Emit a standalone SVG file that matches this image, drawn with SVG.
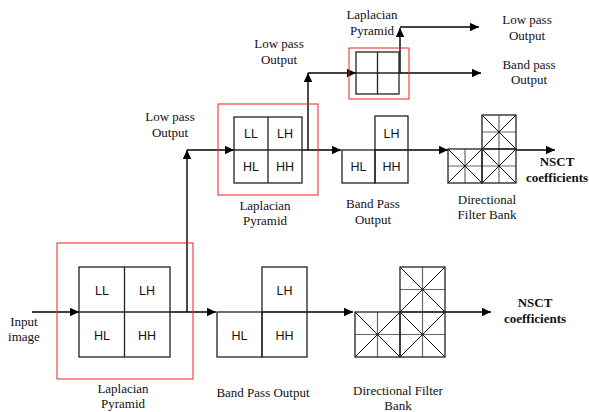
<svg xmlns="http://www.w3.org/2000/svg" width="589" height="412" viewBox="0 0 589 412">
<style>
.t{font-family:"Liberation Serif","Times New Roman",serif;font-size:13px;fill:#111;text-anchor:middle}
.b{font-family:"Liberation Serif","Times New Roman",serif;font-size:13px;font-weight:bold;fill:#111;text-anchor:middle}
.c{font-family:"Liberation Sans",Arial,sans-serif;font-size:12.5px;fill:#111;text-anchor:middle}
.box{fill:none;stroke:#222;stroke-width:1.3}
.red{fill:none;stroke:#e22;stroke-width:1}
.ar{fill:none;stroke:#000;stroke-width:1.4;marker-end:url(#ah)}
.mid{stroke:#666;stroke-width:1.2}
.dg{stroke:#111;stroke-width:1}
</style>
<defs>
<marker id="ah" markerUnits="userSpaceOnUse" markerWidth="10" markerHeight="10" refX="9" refY="4.25" orient="auto">
<path d="M0,0 L9,4.25 L0,8.5 z" fill="#000"/>
</marker>
</defs>

<g id="connectors">
<line class="ar" x1="32" y1="312" x2="79" y2="312"/>
<line class="ar" x1="170" y1="312" x2="216" y2="312"/>
<line class="ar" x1="187" y1="312" x2="187" y2="150"/>
<line class="ar" x1="307" y1="312" x2="353" y2="312"/>
<line class="ar" x1="445" y1="312" x2="491" y2="312"/>
<line class="ar" x1="187" y1="150" x2="234" y2="150"/>
<line class="ar" x1="302" y1="150" x2="341" y2="150"/>
<line class="ar" x1="308" y1="150" x2="308" y2="73"/>
<line class="ar" x1="408" y1="150" x2="448" y2="150"/>
<line class="ar" x1="516" y1="150" x2="555" y2="150"/>
<line class="ar" x1="308" y1="73" x2="356" y2="73"/>
<line class="ar" x1="399" y1="73" x2="481" y2="73"/>
<line class="ar" x1="400" y1="73" x2="400" y2="28"/>
<line class="ar" x1="400" y1="27" x2="479" y2="27"/>
</g>

<g id="lp1">
<rect class="red" x="57" y="243" width="136" height="136"/>
<rect class="box" x="79" y="267" width="91" height="90"/>
<line class="box" x1="124.5" y1="267" x2="124.5" y2="357"/>
<line class="box" x1="79" y1="312" x2="170" y2="312"/>
<text class="c" x="102" y="295">LL</text>
<text class="c" x="147" y="295">LH</text>
<text class="c" x="102" y="340">HL</text>
<text class="c" x="147" y="340">HH</text>
<text class="t" x="123" y="393">Laplacian</text>
<text class="t" x="123" y="408">Pyramid</text>
</g>

<g id="input">
<text class="t" x="24" y="326">Input</text>
<text class="t" x="24" y="341">image</text>
</g>

<g id="bp1">
<rect class="box" x="217" y="312" width="45" height="45"/>
<rect class="box" x="262" y="267" width="45" height="45"/>
<rect class="box" x="262" y="312" width="45" height="45"/>
<text class="c" x="239.5" y="340">HL</text>
<text class="c" x="284.5" y="295">LH</text>
<text class="c" x="284.5" y="340">HH</text>
<text class="t" x="263" y="397">Band Pass Output</text>
</g>

<g id="dfb1">
<g class="mid">
<line x1="377.5" y1="312" x2="377.5" y2="357"/>
<line x1="355" y1="334.5" x2="445" y2="334.5"/>
<line x1="422.5" y1="267" x2="422.5" y2="357"/>
<line x1="400" y1="289.5" x2="445" y2="289.5"/>
</g>
<g class="dg">
<line x1="355" y1="312" x2="400" y2="357"/>
<line x1="400" y1="312" x2="355" y2="357"/>
<line x1="400" y1="312" x2="445" y2="357"/>
<line x1="445" y1="312" x2="400" y2="357"/>
<line x1="400" y1="267" x2="445" y2="312"/>
<line x1="445" y1="267" x2="400" y2="312"/>
</g>
<rect class="box" x="355" y="312" width="45" height="45"/>
<rect class="box" x="400" y="312" width="45" height="45"/>
<rect class="box" x="400" y="267" width="45" height="45"/>
<text class="t" x="398" y="395">Directional Filter</text>
<text class="t" x="398" y="410">Bank</text>
</g>

<g id="out1">
<text class="b" x="535" y="307">NSCT</text>
<text class="b" x="535" y="323">coefficients</text>
</g>

<g id="lowpass1">
<text class="t" x="170" y="121">Low pass</text>
<text class="t" x="170" y="137">Output</text>
</g>

<g id="lp2">
<rect class="red" x="218" y="104" width="100" height="91"/>
<rect class="box" x="234" y="117" width="68" height="66"/>
<line class="box" x1="268" y1="117" x2="268" y2="183"/>
<line class="box" x1="234" y1="150" x2="302" y2="150"/>
<text class="c" x="251" y="138">LL</text>
<text class="c" x="285" y="138">LH</text>
<text class="c" x="251" y="171">HL</text>
<text class="c" x="285" y="171">HH</text>
<text class="t" x="265" y="210">Laplacian</text>
<text class="t" x="265" y="225">Pyramid</text>
</g>

<g id="bp2">
<rect class="box" x="342" y="150" width="33" height="33"/>
<rect class="box" x="375" y="116" width="33" height="34"/>
<rect class="box" x="375" y="150" width="33" height="33"/>
<text class="c" x="358.5" y="171">HL</text>
<text class="c" x="391.5" y="137.5">LH</text>
<text class="c" x="391.5" y="171">HH</text>
<text class="t" x="373" y="208">Band Pass</text>
<text class="t" x="373" y="224">Output</text>
</g>

<g id="dfb2">
<g class="mid">
<line x1="465" y1="149" x2="465" y2="183"/>
<line x1="448" y1="166" x2="516" y2="166"/>
<line x1="499" y1="115" x2="499" y2="183"/>
<line x1="482" y1="132" x2="516" y2="132"/>
</g>
<g class="dg">
<line x1="448" y1="149" x2="482" y2="183"/>
<line x1="482" y1="149" x2="448" y2="183"/>
<line x1="482" y1="149" x2="516" y2="183"/>
<line x1="516" y1="149" x2="482" y2="183"/>
<line x1="482" y1="115" x2="516" y2="149"/>
<line x1="516" y1="115" x2="482" y2="149"/>
</g>
<rect class="box" x="448" y="149" width="34" height="34"/>
<rect class="box" x="482" y="149" width="34" height="34"/>
<rect class="box" x="482" y="115" width="34" height="34"/>
<text class="t" x="487" y="204">Directional</text>
<text class="t" x="487" y="219">Filter Bank</text>
</g>

<g id="out2">
<text class="b" x="557" y="166">NSCT</text>
<text class="b" x="557" y="182">coefficients</text>
</g>

<g id="lowpass2">
<text class="t" x="279" y="48">Low pass</text>
<text class="t" x="279" y="64">Output</text>
</g>

<g id="lp3">
<rect class="red" x="349" y="48" width="60" height="51"/>
<rect class="box" x="356" y="52" width="43" height="42"/>
<line class="box" x1="377.5" y1="52" x2="377.5" y2="94"/>
<line class="box" x1="356" y1="73" x2="399" y2="73"/>
<text class="t" x="372" y="19">Laplacian</text>
<text class="t" x="372" y="35">Pyramid</text>
</g>

<g id="out3">
<text class="t" x="527" y="24">Low pass</text>
<text class="t" x="527" y="39.5">Output</text>
<text class="t" x="529" y="68.5">Band pass</text>
<text class="t" x="529" y="84">Output</text>
</g>
</svg>
